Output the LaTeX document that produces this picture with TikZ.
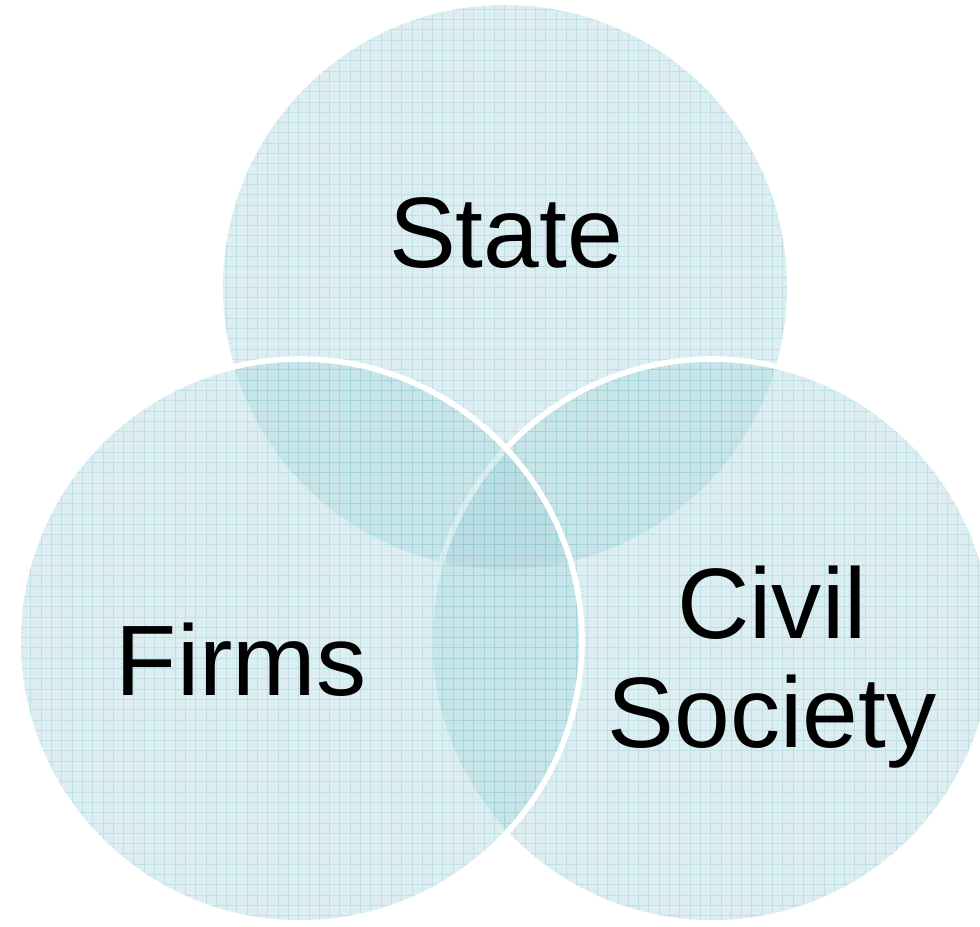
\documentclass[tikz,border=0pt]{standalone}
\usepackage{fontspec}
\setmainfont{Liberation Sans}
\usepackage{tikz}
\definecolor{vennblue}{RGB}{168,213,220}
\definecolor{venngridc}{RGB}{120,190,200}
\newcommand{\vennr}{5.64}
\newcommand{\venncircle}[2]{
  \fill[vennfill] (#1) circle (\vennr);
  \begin{scope}
    \clip (#1) circle (\vennr);
    \draw[venngrid] (0,0) grid (19.6,18.52);
  \end{scope}
  \path[#2] (#1) circle (\vennr);
}
\tikzset{
  vennfill/.style = {fill=vennblue, fill opacity=0.4},
  venngrid/.style = {draw=venngridc, line width=0.5pt, opacity=0.28, step=0.206},
  rim/.style      = {draw=white, line width=3.2pt},
  norim/.style    = {},
  label/.style    = {font=\fontsize{57}{62}\selectfont, inner sep=0pt, align=center}
}

\begin{document}
\begin{tikzpicture}
	\useasboundingbox (0,0) rectangle (19.6,18.52);
	\clip (0,0) rectangle (19.6,18.52);
	\coordinate (S) at (10.10,12.78);
	\coordinate (F) at (6.00,5.70);
	\coordinate (C) at (14.24,5.70);
	\venncircle{S}{norim}
	\venncircle{C}{rim}
	\venncircle{F}{rim}
	\node[label, anchor=base] (state) at (10.12,13.16) {State};
	\node[label, anchor=base] (firms) at (4.82,4.62) {Firms};
	\node[label] (civil) at (15.44,5.18) {Civil\\Society};
\end{tikzpicture}
\end{document}
